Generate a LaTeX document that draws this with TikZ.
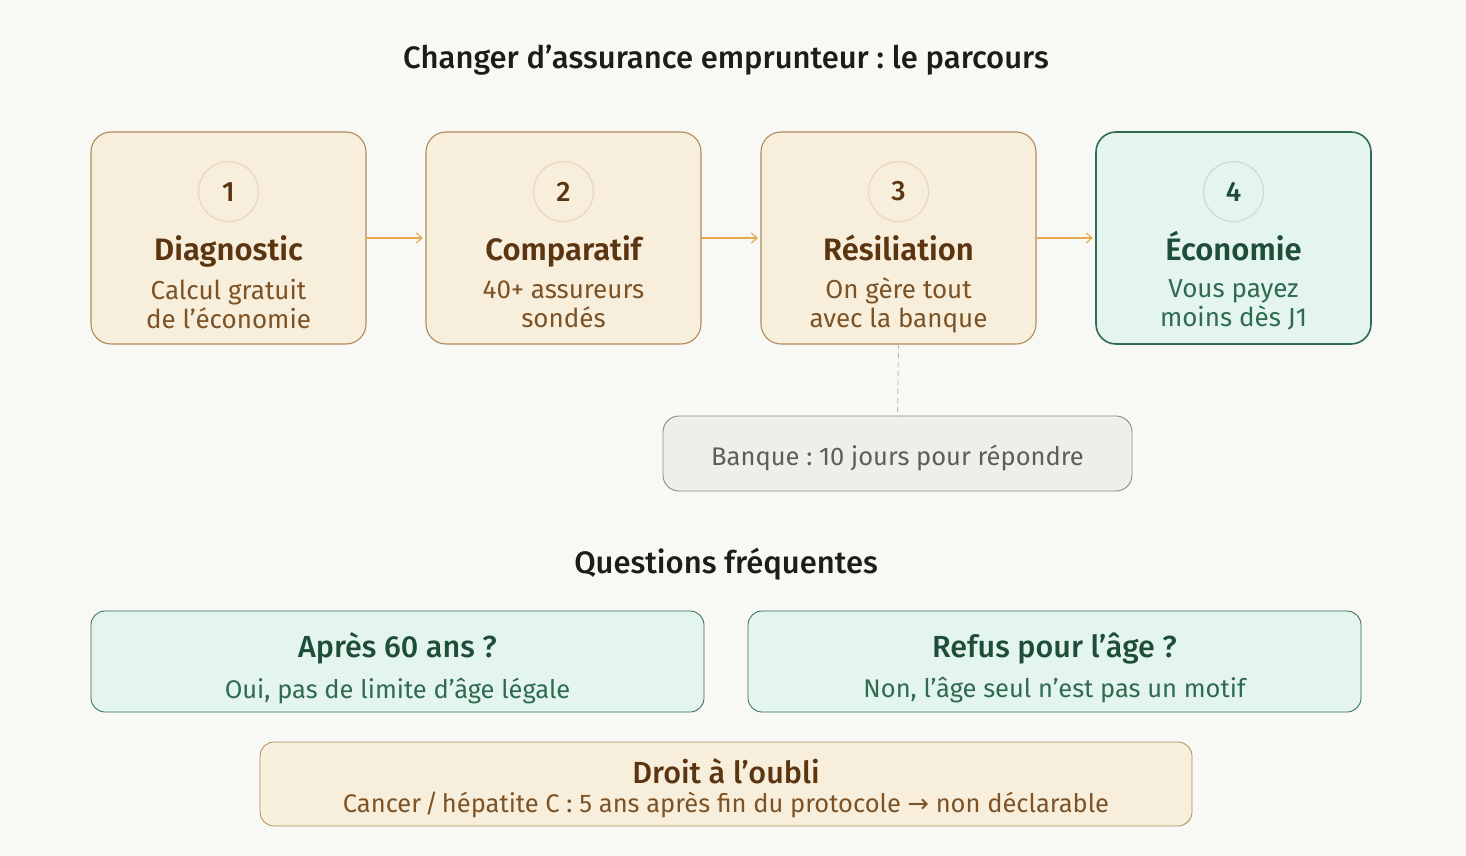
\documentclass[tikz,border=0pt]{standalone}
\usepackage{fontspec}
\setmainfont{Fira Sans}[BoldFont={Fira Sans SemiBold}]
\newfontfamily\mediumfont{Fira Sans Medium}
\newfontfamily\symfont{DejaVu Sans}
\usetikzlibrary{positioning,arrows.meta}
\frenchspacing

\definecolor{paper}{HTML}{F8F8F4}
\definecolor{cream}{HTML}{F8EEDC}
\definecolor{creamline}{HTML}{B08A5E}
\definecolor{creamring}{HTML}{E6D8C2}
\definecolor{brown}{HTML}{5A3510}
\definecolor{brownsub}{HTML}{7D5325}
\definecolor{mint}{HTML}{E4F4EE}
\definecolor{mintline}{HTML}{2E6B52}
\definecolor{mintring}{HTML}{C9DDD3}
\definecolor{pine}{HTML}{1E4D38}
\definecolor{pinesub}{HTML}{2F6B50}
\definecolor{stone}{HTML}{F0EEE9}
\definecolor{stoneline}{HTML}{8C8C86}
\definecolor{stonetext}{HTML}{5E5E59}
\definecolor{amber}{HTML}{E6A94F}
\definecolor{ink}{HTML}{1C1C1A}

\begin{document}
\begin{tikzpicture}[x=1pt, y=-1pt,
    stepbox/.style={draw=creamline, fill=cream, line width=1.1pt, rounded corners=20pt,
        minimum width=275pt, minimum height=212pt, inner sep=0pt, outer sep=0pt},
    endbox/.style={stepbox, draw=mintline, fill=mint, line width=1.6pt},
    numdot/.style={circle, draw=creamring, line width=1.2pt, minimum size=60pt, inner sep=0pt,
        text=brown, font=\fontsize{28}{30}\selectfont\mediumfont},
    steptitle/.style={text=brown, font=\fontsize{31}{33}\selectfont\bfseries, inner sep=0pt,
        text height=22pt, text depth=7pt},
    stepsub/.style={text=brownsub, font=\fontsize{26}{29}\selectfont, align=center, inner sep=0pt},
    flow/.style={draw=amber, line width=1.1pt, -{Straight Barb[length=6pt,width=10pt]}, shorten >=3pt},
    note/.style={draw=stoneline, fill=stone, line width=0.9pt, rounded corners=16pt,
        minimum width=469pt, minimum height=75pt, inner sep=0pt, outer sep=0pt},
    notetext/.style={text=stonetext, font=\fontsize{25.5}{28}\selectfont, inner sep=0pt},
    faqbox/.style={draw=mintline, fill=mint, line width=0.8pt, rounded corners=14pt,
        minimum width=613pt, minimum height=101pt, inner sep=0pt, outer sep=0pt},
    faqtitle/.style={text=pine, font=\fontsize{30.5}{32}\selectfont\mediumfont, inner sep=0pt},
    faqsub/.style={text=pinesub, font=\fontsize{25.5}{28}\selectfont, inner sep=0pt},
    heading/.style={text=ink, font=\fontsize{31}{33}\selectfont\mediumfont}]

    \useasboundingbox[fill=paper] (0,0) rectangle (1466,856);

    \node[heading] (title) at (726,60) {Changer d’assurance emprunteur : le parcours};

    \node[stepbox] (s1) at (228.5,238) {};
    \node[stepbox, right=60pt of s1] (s2) {};
    \node[stepbox, right=60pt of s2] (s3) {};
    \node[endbox, right=60pt of s3] (s4) {};

    \node[numdot, below=29pt of s1.north] (n1) {1};
    \node[numdot, below=29pt of s2.north] (n2) {2};
    \node[numdot, below=29pt of s3.north] (n3) {3};
    \node[numdot, draw=mintring, text=pine, below=29pt of s4.north] (n4) {4};

    \node[steptitle] (t1) at ([yshift=-15pt]s1.center) {Diagnostic};
    \node[steptitle] (t2) at ([yshift=-15pt]s2.center) {Comparatif};
    \node[steptitle] (t3) at ([yshift=-15pt]s3.center) {Résiliation};
    \node[steptitle, text=pine] (t4) at ([yshift=-15pt]s4.center) {Économie};

    \node[stepsub] (d1) at ([yshift=-66pt]s1.center) {Calcul gratuit\\de l’économie};
    \node[stepsub] (d2) at ([yshift=-66pt]s2.center) {40+ assureurs\\sondés};
    \node[stepsub] (d3) at ([yshift=-67pt]s3.center) {On gère tout\\avec la banque};
    \node[stepsub, text=pinesub] (d4) at ([yshift=-67pt]s4.center) {Vous payez\\moins dès J1};

    \draw[flow] (s1) -- (s2);
    \draw[flow] (s2) -- (s3);
    \draw[flow] (s3) -- (s4);

    \node[note] (bank) at (897.5,453.5) {};
    \node[notetext] (banktext) at ([yshift=-4pt]bank.center) {Banque : 10 jours pour répondre};
    \draw[stoneline!60, line width=0.9pt, dash pattern=on 5pt off 4pt] (s3.south) -- (bank.north);

    \node[heading] (faq) at (726,564) {Questions fréquentes};

    \node[faqbox] (q1) at (397.5,661.5) {};
    \node[faqbox, right=44pt of q1] (q2) {};
    \node[faqtitle] (qt1) at ([yshift=13pt]q1.center) {Après 60 ans ?};
    \node[faqtitle] (qt2) at ([yshift=13pt]q2.center) {Refus pour l’âge ?};
    \node[faqsub] (qs1) at ([yshift=-29pt]q1.center) {Oui, pas de limite d’âge légale};
    \node[faqsub] (qs2) at ([yshift=-29pt]q2.center) {Non, l’âge seul n’est pas un motif};

    \node[faqbox, draw=creamline, fill=cream, minimum width=932pt, minimum height=84pt] (oubli) at (726,784) {};
    \node[faqtitle, text=brown] (ot) at ([yshift=13pt]oubli.center) {Droit à l’oubli};
    \node[faqsub, text=brownsub] (os) at ([yshift=-21pt]oubli.center)
        {Cancer \kern-3pt/\kern-3pt{} hépatite C : 5 ans après fin du protocole {\symfont →} non déclarable};
\end{tikzpicture}
\end{document}
